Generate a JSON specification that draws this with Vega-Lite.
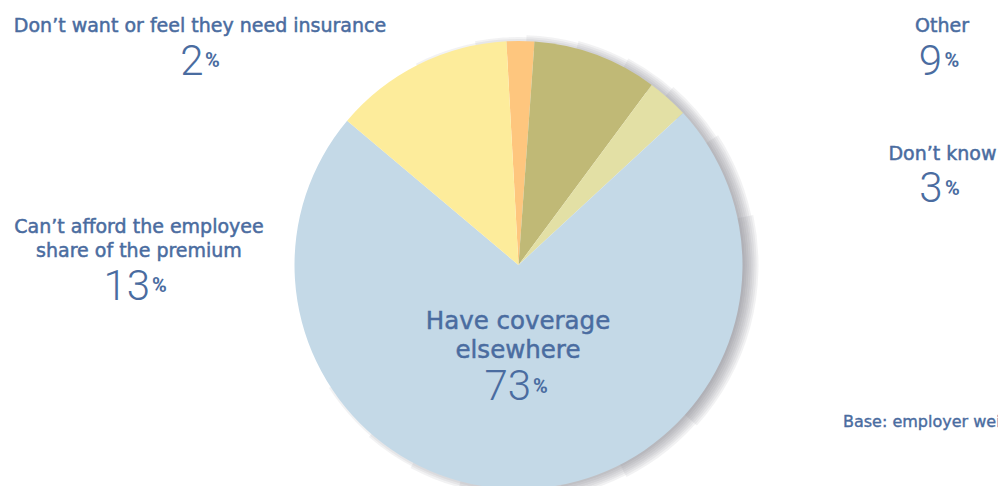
{
  "$schema": "https://vega.github.io/schema/vega-lite/v6.json",
  "autosize": "none",
  "width": 959,
  "height": 442,
  "padding": {"left": 39, "top": 44, "right": 0, "bottom": 0},
  "background": "white",
  "config": {"view": {"stroke": null}},
  "layer": [
    {"data": {"values": [{}]}, "mark": {"type": "arc", "theta": -0.4712, "theta2": 4.1364, "radius": 226, "radius2": 215, "fill": "#6a737e", "fillOpacity": 0.09}, "encoding": {}},
    {"data": {"values": [{}]}, "mark": {"type": "arc", "theta": -0.192, "theta2": 3.8572, "radius": 228, "radius2": 215, "fill": "#6a737e", "fillOpacity": 0.09}, "encoding": {}},
    {"data": {"values": [{}]}, "mark": {"type": "arc", "theta": 0.0349, "theta2": 3.6303, "radius": 230, "radius2": 215, "fill": "#6a737e", "fillOpacity": 0.09}, "encoding": {}},
    {"data": {"values": [{}]}, "mark": {"type": "arc", "theta": 0.2618, "theta2": 3.4034, "radius": 232, "radius2": 215, "fill": "#6a737e", "fillOpacity": 0.09}, "encoding": {}},
    {"data": {"values": [{}]}, "mark": {"type": "arc", "theta": 0.4887, "theta2": 3.1765, "radius": 234, "radius2": 215, "fill": "#6a737e", "fillOpacity": 0.09}, "encoding": {}},
    {"data": {"values": [{}]}, "mark": {"type": "arc", "theta": 0.7156, "theta2": 2.9496, "radius": 236, "radius2": 215, "fill": "#6a737e", "fillOpacity": 0.09}, "encoding": {}},
    {"data": {"values": [{}]}, "mark": {"type": "arc", "theta": 0.9948, "theta2": 2.6704, "radius": 238, "radius2": 215, "fill": "#6a737e", "fillOpacity": 0.09}, "encoding": {}},
    {"data": {"values": [{}]}, "mark": {"type": "arc", "theta": 1.3614, "theta2": 2.3038, "radius": 240, "radius2": 215, "fill": "#6a737e", "fillOpacity": 0.09}, "encoding": {}},
    {
      "data": {"values": [
        {"idx": 1, "cat": "Don’t want or feel they need insurance", "pct": 2},
        {"idx": 2, "cat": "Other", "pct": 9},
        {"idx": 3, "cat": "Don’t know", "pct": 3},
        {"idx": 4, "cat": "Have coverage\nelsewhere", "pct": 73},
        {"idx": 5, "cat": "Can’t afford the employee\nshare of the premium", "pct": 13}
      ]},
      "encoding": {
        "theta": {"field": "pct", "type": "quantitative", "stack": true, "scale": {"range": [-0.05411, 6.22908]}},
        "order": {"field": "idx", "type": "quantitative"},
        "detail": {"field": "cat", "type": "nominal"}
      },
      "layer": [
        {"mark": {"type": "arc", "radius": 224},
         "encoding": {"color": {"field": "cat", "type": "nominal", "legend": null,
           "scale": {"domain": ["Don’t want or feel they need insurance", "Other", "Don’t know", "Have coverage\nelsewhere", "Can’t afford the employee\nshare of the premium"],
                     "range": ["#FEC67E", "#C0B976", "#E3E0A5", "#C4D9E7", "#FDEC9B"]}}}},

        {"mark": {"type": "text", "radius": 230, "dx": -320.5, "dy": -3, "align": "center", "baseline": "alphabetic", "font": "DejaVu Sans", "fontSize": 19, "fill": "#4A6CA0", "stroke": "#4A6CA0", "strokeWidth": 0.5},
         "encoding": {"text": {"condition": {"test": "datum.idx === 1", "field": "cat"}, "value": ""}}},
        {"mark": {"type": "text", "radius": 230, "dx": -317, "dy": 40, "align": "right", "baseline": "alphabetic", "font": "Roboto", "fontSize": 42, "fontWeight": 300, "fill": "#4A6CA0"},
         "encoding": {"text": {"condition": {"test": "datum.idx === 1", "field": "pct", "type": "quantitative"}, "value": ""}}},
        {"mark": {"type": "text", "radius": 230, "dx": -315.5, "dy": 32, "align": "left", "baseline": "alphabetic", "font": "Roboto", "fontSize": 20, "fontWeight": "bold", "fill": "#4A6CA0"},
         "encoding": {"text": {"condition": {"test": "datum.idx === 1", "value": "%"}, "value": ""}}},

        {"mark": {"type": "text", "radius": 230, "dx": 343.7, "dy": -17.3, "align": "center", "baseline": "alphabetic", "font": "DejaVu Sans", "fontSize": 19, "fill": "#4A6CA0", "stroke": "#4A6CA0", "strokeWidth": 0.5},
         "encoding": {"text": {"condition": {"test": "datum.idx === 2", "field": "cat"}, "value": ""}}},
        {"mark": {"type": "text", "radius": 230, "dx": 343.7, "dy": 25.7, "align": "right", "baseline": "alphabetic", "font": "Roboto", "fontSize": 42, "fontWeight": 300, "fill": "#4A6CA0"},
         "encoding": {"text": {"condition": {"test": "datum.idx === 2", "field": "pct", "type": "quantitative"}, "value": ""}}},
        {"mark": {"type": "text", "radius": 230, "dx": 346.2, "dy": 17.7, "align": "left", "baseline": "alphabetic", "font": "Roboto", "fontSize": 20, "fontWeight": "bold", "fill": "#4A6CA0"},
         "encoding": {"text": {"condition": {"test": "datum.idx === 2", "value": "%"}, "value": ""}}},

        {"mark": {"type": "text", "radius": 230, "dx": 270.4, "dy": 66.2, "align": "center", "baseline": "alphabetic", "font": "DejaVu Sans", "fontSize": 19, "fill": "#4A6CA0", "stroke": "#4A6CA0", "strokeWidth": 0.5},
         "encoding": {"text": {"condition": {"test": "datum.idx === 3", "field": "cat"}, "value": ""}}},
        {"mark": {"type": "text", "radius": 230, "dx": 270.4, "dy": 107.9, "align": "right", "baseline": "alphabetic", "font": "Roboto", "fontSize": 42, "fontWeight": 300, "fill": "#4A6CA0"},
         "encoding": {"text": {"condition": {"test": "datum.idx === 3", "field": "pct", "type": "quantitative"}, "value": ""}}},
        {"mark": {"type": "text", "radius": 230, "dx": 272.9, "dy": 101.2, "align": "left", "baseline": "alphabetic", "font": "Roboto", "fontSize": 20, "fontWeight": "bold", "fill": "#4A6CA0"},
         "encoding": {"text": {"condition": {"test": "datum.idx === 3", "value": "%"}, "value": ""}}},

        {"mark": {"type": "text", "radius": 100, "dx": -2.8, "dy": -36, "align": "center", "baseline": "alphabetic", "lineBreak": "\n", "lineHeight": 29, "font": "DejaVu Sans", "fontSize": 24.5, "fill": "#4A6CA0", "stroke": "#4A6CA0", "strokeWidth": 0.5},
         "encoding": {"text": {"condition": {"test": "datum.idx === 4", "field": "cat"}, "value": ""}}},
        {"mark": {"type": "text", "radius": 100, "dx": 10.2, "dy": 35, "align": "right", "baseline": "alphabetic", "font": "Roboto", "fontSize": 42, "fontWeight": 300, "fill": "#4A6CA0"},
         "encoding": {"text": {"condition": {"test": "datum.idx === 4", "field": "pct", "type": "quantitative"}, "value": ""}}},
        {"mark": {"type": "text", "radius": 100, "dx": 12.2, "dy": 28.5, "align": "left", "baseline": "alphabetic", "font": "Roboto", "fontSize": 20, "fontWeight": "bold", "fill": "#4A6CA0"},
         "encoding": {"text": {"condition": {"test": "datum.idx === 4", "value": "%"}, "value": ""}}},

        {"mark": {"type": "text", "radius": 230, "dx": -276.9, "dy": 173.8, "align": "center", "baseline": "alphabetic", "lineBreak": "\n", "lineHeight": 24, "font": "DejaVu Sans", "fontSize": 19, "fill": "#4A6CA0", "stroke": "#4A6CA0", "strokeWidth": 0.5},
         "encoding": {"text": {"condition": {"test": "datum.idx === 5", "field": "cat"}, "value": ""}}},
        {"mark": {"type": "text", "radius": 230, "dx": -265.9, "dy": 240.8, "align": "right", "baseline": "alphabetic", "font": "Roboto", "fontSize": 42, "fontWeight": 300, "fill": "#4A6CA0"},
         "encoding": {"text": {"condition": {"test": "datum.idx === 5", "field": "pct", "type": "quantitative"}, "value": ""}}},
        {"mark": {"type": "text", "radius": 230, "dx": -263.9, "dy": 232.8, "align": "left", "baseline": "alphabetic", "font": "Roboto", "fontSize": 20, "fontWeight": "bold", "fill": "#4A6CA0"},
         "encoding": {"text": {"condition": {"test": "datum.idx === 5", "value": "%"}, "value": ""}}}
      ]
    },
    {"data": {"values": [{"note": "Base: employer weighted"}]},
     "mark": {"type": "text", "dx": 324.5, "dy": 162, "align": "left", "baseline": "alphabetic", "font": "DejaVu Sans", "fontSize": 16, "fill": "#4A6CA0", "stroke": "#4A6CA0", "strokeWidth": 0.4},
     "encoding": {"text": {"field": "note", "type": "nominal"}}}
  ]
}
